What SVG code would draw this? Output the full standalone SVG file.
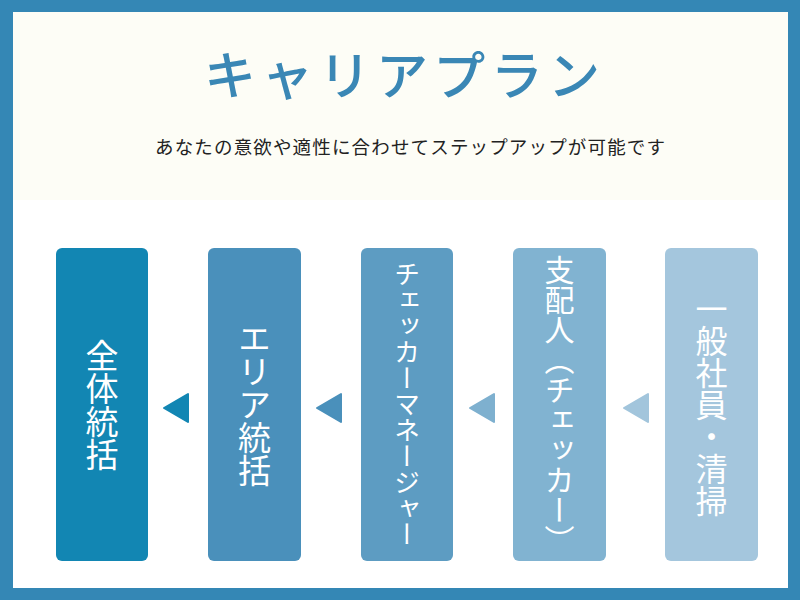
<svg xmlns="http://www.w3.org/2000/svg" width="800" height="600" viewBox="0 0 800 600">
<style>
.jp{font-family:"Noto Sans CJK JP","Noto Sans",sans-serif;}
.vt{font-family:"Noto Sans CJK JP",sans-serif;fill:#ffffff;writing-mode:vertical-rl;text-anchor:middle;font-weight:400;}
.arr{stroke-linejoin:round;stroke-width:2;}
</style>
<rect x="0" y="0" width="800" height="600" fill="#3487b5"/>
<rect x="13" y="12" width="775" height="576" fill="#ffffff"/>
<rect x="13" y="12" width="775" height="188" fill="#fdfdf6"/>
<g id="title">
<text class="jp" x="402" y="72" text-anchor="middle" dominant-baseline="central" font-size="52" font-weight="500" fill="#3a87b5" textLength="396" lengthAdjust="spacing">キャリアプラン</text>
</g>
<g id="subtitle">
<text class="jp" x="410" y="146" text-anchor="middle" dominant-baseline="central" font-size="18.5" fill="#222222" textLength="510" lengthAdjust="spacing">あなたの意欲や適性に合わせてステップアップが可能です</text>
</g>
<g id="node-zentai">
<rect x="56" y="248" width="92" height="313" rx="6" fill="#1286b3"/>
<text class="vt" x="102" y="404.5" font-size="33" dominant-baseline="central">全体統括</text>
</g>
<g id="node-area">
<rect x="208" y="248" width="93" height="313" rx="6" fill="#4a90bb"/>
<text class="vt" x="254.5" y="404.5" font-size="33">エリア統括</text>
</g>
<g id="node-checker-manager">
<rect x="361" y="248" width="92" height="313" rx="6" fill="#5d9cc2"/>
<text class="vt" x="407" y="404.5" font-size="26">チェッカーマネージャー</text>
</g>
<g id="node-shihainin">
<rect x="513" y="248" width="93" height="313" rx="6" fill="#81b3d1"/>
<text class="vt" x="559.5" y="404.5" font-size="30">支配人（チェッカー）</text>
</g>
<g id="node-ippan">
<rect x="665" y="248" width="93" height="313" rx="6" fill="#a4c6dd"/>
<text class="vt" x="711.5" y="404.5" font-size="32">一般社員・清掃</text>
</g>
<g id="connectors">
<polygon class="arr" points="164,408 188,394 188,422" fill="#1286b3" stroke="#1286b3"/>
<polygon class="arr" points="317,408 341,394 341,422" fill="#4a90bb" stroke="#4a90bb"/>
<polygon class="arr" points="470,408 494,394 494,422" fill="#7eb0cf" stroke="#7eb0cf"/>
<polygon class="arr" points="624,408 648,394 648,422" fill="#a2c5dc" stroke="#a2c5dc"/>
</g>
</svg>
